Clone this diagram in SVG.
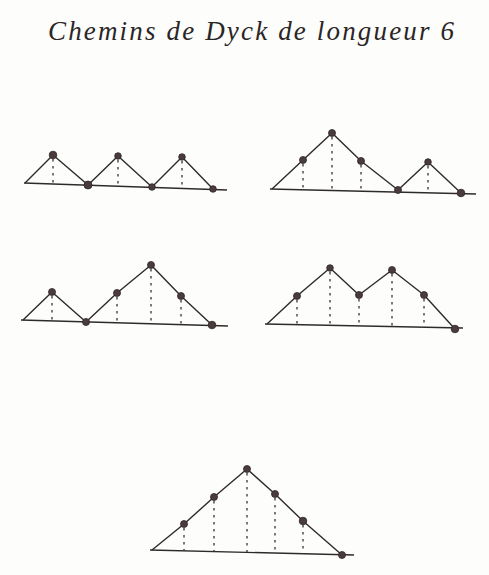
<svg xmlns="http://www.w3.org/2000/svg" width="489" height="575" viewBox="0 0 489 575">
<style>
.bg{fill:#fdfdfc}
.title{font-family:"Liberation Serif",serif;font-style:italic;font-size:27px;fill:#2a2626}
.axis{stroke:#2e2a2a;stroke-width:1.4;fill:none}
.path{stroke:#2e2a2a;stroke-width:1.4;fill:none;stroke-linejoin:round}
.drop{stroke:#3a3434;stroke-width:1.3;stroke-dasharray:2.5 4.5;fill:none}
.dot{fill:#4a3c3c;stroke:#2e2626;stroke-width:0.8}
</style>
<rect class="bg" width="489" height="575"/>
<text class="title" x="48" y="40" textLength="406" lengthAdjust="spacing">Chemins de Dyck de longueur 6</text>

<g id="path1">
<line class="axis" x1="24" y1="183" x2="227" y2="190"/>
<polyline class="path" points="25,183 53,155 88,185 118,156 152,187 182,157 213,189"/>
<line class="drop" x1="53" y1="159" x2="53" y2="184"/>
<line class="drop" x1="118" y1="160" x2="118" y2="186"/>
<line class="drop" x1="182" y1="161" x2="182" y2="188"/>
<circle class="dot" cx="53" cy="155" r="3.8"/>
<circle class="dot" cx="88" cy="185" r="4"/>
<circle class="dot" cx="118" cy="156" r="3.3"/>
<circle class="dot" cx="152" cy="187" r="3.3"/>
<circle class="dot" cx="182" cy="157" r="3.3"/>
<circle class="dot" cx="213" cy="189" r="3.3"/>
</g>

<g id="path2">
<line class="axis" x1="270" y1="189" x2="476" y2="194"/>
<polyline class="path" points="272,189 303,160 332,133 361,161 398,190 428,162 461,193"/>
<line class="drop" x1="303" y1="164" x2="303" y2="189"/>
<line class="drop" x1="332" y1="137" x2="332" y2="190"/>
<line class="drop" x1="361" y1="165" x2="361" y2="190"/>
<line class="drop" x1="428" y1="166" x2="428" y2="192"/>
<circle class="dot" cx="303" cy="160" r="3.5"/>
<circle class="dot" cx="332" cy="133" r="3.5"/>
<circle class="dot" cx="361" cy="161" r="3.5"/>
<circle class="dot" cx="398" cy="190" r="3.5"/>
<circle class="dot" cx="428" cy="162" r="3.3"/>
<circle class="dot" cx="461" cy="193" r="3.8"/>
</g>

<g id="path3">
<line class="axis" x1="21" y1="320" x2="228" y2="326"/>
<polyline class="path" points="23,320 52,292 86,322 117,293 151,265 181,296 212,325"/>
<line class="drop" x1="52" y1="296" x2="52" y2="321"/>
<line class="drop" x1="117" y1="297" x2="117" y2="323"/>
<line class="drop" x1="151" y1="269" x2="151" y2="324"/>
<line class="drop" x1="181" y1="300" x2="181" y2="325"/>
<circle class="dot" cx="52" cy="292" r="3.5"/>
<circle class="dot" cx="86" cy="322" r="3.5"/>
<circle class="dot" cx="117" cy="293" r="3.5"/>
<circle class="dot" cx="151" cy="265" r="3.5"/>
<circle class="dot" cx="181" cy="296" r="3.5"/>
<circle class="dot" cx="212" cy="325" r="3.8"/>
</g>

<g id="path4">
<line class="axis" x1="265" y1="324" x2="463" y2="328"/>
<polyline class="path" points="267,324 297,296 330,268 359,295 392,270 424,295 455,329"/>
<line class="drop" x1="297" y1="300" x2="297" y2="325"/>
<line class="drop" x1="330" y1="272" x2="330" y2="325"/>
<line class="drop" x1="359" y1="299" x2="359" y2="326"/>
<line class="drop" x1="392" y1="274" x2="392" y2="327"/>
<line class="drop" x1="424" y1="299" x2="424" y2="327"/>
<circle class="dot" cx="297" cy="296" r="3.5"/>
<circle class="dot" cx="330" cy="268" r="3.3"/>
<circle class="dot" cx="359" cy="295" r="3.5"/>
<circle class="dot" cx="392" cy="270" r="3.5"/>
<circle class="dot" cx="424" cy="295" r="3.5"/>
<circle class="dot" cx="455" cy="329" r="3.8"/>
</g>

<g id="path5">
<line class="axis" x1="150" y1="550" x2="354" y2="555"/>
<polyline class="path" points="152,550 184,524 214,497 247,469 275,494 303,521 342,555"/>
<line class="drop" x1="184" y1="528" x2="184" y2="551"/>
<line class="drop" x1="214" y1="501" x2="214" y2="552"/>
<line class="drop" x1="247" y1="473" x2="247" y2="552"/>
<line class="drop" x1="275" y1="498" x2="275" y2="553"/>
<line class="drop" x1="303" y1="525" x2="303" y2="554"/>
<circle class="dot" cx="184" cy="524" r="3.5"/>
<circle class="dot" cx="214" cy="497" r="3.5"/>
<circle class="dot" cx="247" cy="469" r="3.5"/>
<circle class="dot" cx="275" cy="494" r="3.5"/>
<circle class="dot" cx="303" cy="521" r="3.8"/>
<circle class="dot" cx="342" cy="555" r="3.5"/>
</g>
</svg>
